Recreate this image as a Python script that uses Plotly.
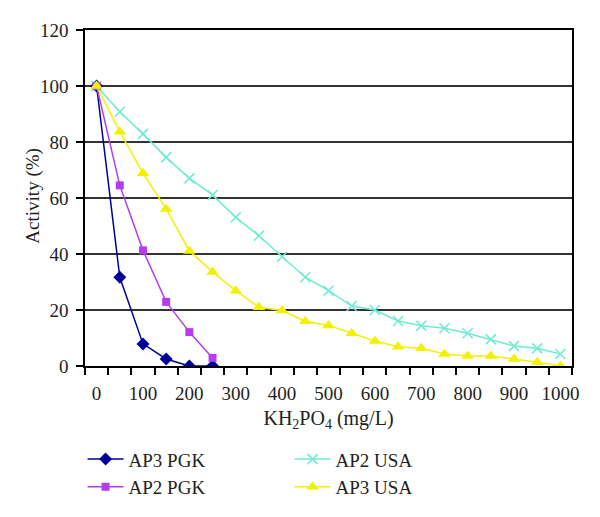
import plotly.graph_objects as go

x_all = [0, 50, 100, 150, 200, 250, 300, 350, 400, 450, 500, 550, 600, 650, 700, 750, 800, 850, 900, 950, 1000]
x_pgk = [0, 50, 100, 150, 200, 250]

ap3_pgk = [100, 31.7, 7.9, 2.5, 0, 0]
ap2_pgk = [100, 64.5, 41.3, 22.9, 12.1, 2.9]
ap2_usa = [100, 90.8, 82.9, 74.5, 67.0, 61.1, 53.1, 46.5, 39.0, 31.7, 26.9, 21.4, 20.0, 16.1, 14.4, 13.5, 11.7, 9.5, 7.1, 6.3, 4.3]
ap3_usa = [100, 83.7, 68.8, 56.1, 41.1, 33.6, 26.9, 21.0, 19.8, 16.0, 14.5, 11.7, 8.9, 6.9, 6.3, 4.3, 3.6, 3.6, 2.5, 1.3, 0]

x_ticks = [0, 100, 200, 300, 400, 500, 600, 700, 800, 900, 1000]
y_ticks = [0, 20, 40, 60, 80, 100, 120]

FONT = "Liberation Serif"
TXT = "#231f20"
FS = 19

fig = go.Figure()
# order: row-major for a 2-column horizontal legend
fig.add_trace(go.Scatter(x=x_pgk, y=ap3_pgk, name="AP3 PGK", mode="lines+markers",
                         line=dict(color="#000099", width=1.5),
                         marker=dict(symbol="diamond", size=10, color="#000099")))
fig.add_trace(go.Scatter(x=x_all, y=ap2_usa, name="AP2 USA", mode="lines+markers",
                         line=dict(color="#6EEBD2", width=1.5),
                         marker=dict(symbol="x-thin", size=10, color="#6EEBD2",
                                     line=dict(color="#6EEBD2", width=1.5))))
fig.add_trace(go.Scatter(x=x_pgk, y=ap2_pgk, name="AP2 PGK", mode="lines+markers",
                         line=dict(color="#B63CF0", width=1.5),
                         marker=dict(symbol="square", size=8, color="#B63CF0")))
fig.add_trace(go.Scatter(x=x_all, y=ap3_usa, name="AP3 USA", mode="lines+markers",
                         line=dict(color="#F2F200", width=1.5),
                         marker=dict(symbol="triangle-up", size=11, color="#F2F200")))

# page body has an 8px margin; figure sized to fit the 600x517 window
fig.update_layout(
    width=592, height=509,
    margin=dict(l=77, r=28, t=22, b=151, autoexpand=False),
    paper_bgcolor="white", plot_bgcolor="white",
    font=dict(family=FONT, size=FS, color=TXT),
    showlegend=True,
    legend=dict(orientation="h", x=-0.005, xanchor="left", y=-0.221, yanchor="top",
                entrywidth=156, entrywidthmode="pixels", traceorder="normal",
                font=dict(family=FONT, size=FS, color=TXT), itemwidth=36,
                tracegroupgap=0),
    annotations=[dict(text="Activity (%)", textangle=-90, xref="paper", yref="paper",
                      x=-0.1068, y=0.507, xanchor="center", yanchor="middle",
                      showarrow=False, font=dict(family=FONT, size=FS, color=TXT))],
)
fig.update_xaxes(
    range=[-25, 1025], tickmode="array", tickvals=x_ticks,
    ticktext=[str(v) for v in x_ticks], automargin=False,
    ticks="", showgrid=False, zeroline=False, ticklabelstandoff=9,
    showline=True, linecolor="black", linewidth=1.5, mirror=True,
    minor=dict(tick0=25, dtick=50, ticks="outside", ticklen=7, tickcolor="black", tickwidth=1.5, showgrid=False),
    title=dict(text="KH<sub>2</sub>PO<sub>4</sub> (mg/L)", font=dict(family=FONT, size=20, color=TXT), standoff=8),
)
fig.update_yaxes(
    range=[0, 120], tickmode="array", tickvals=y_ticks, automargin=False,
    ticks="outside", ticklen=7, tickcolor="black", tickwidth=1.5, ticklabelstandoff=4,
    showgrid=True, gridcolor="#333333", gridwidth=1.5, zeroline=False,
    showline=True, linecolor="black", linewidth=1.5, mirror=True,
)

fig.write_html("out.html")
